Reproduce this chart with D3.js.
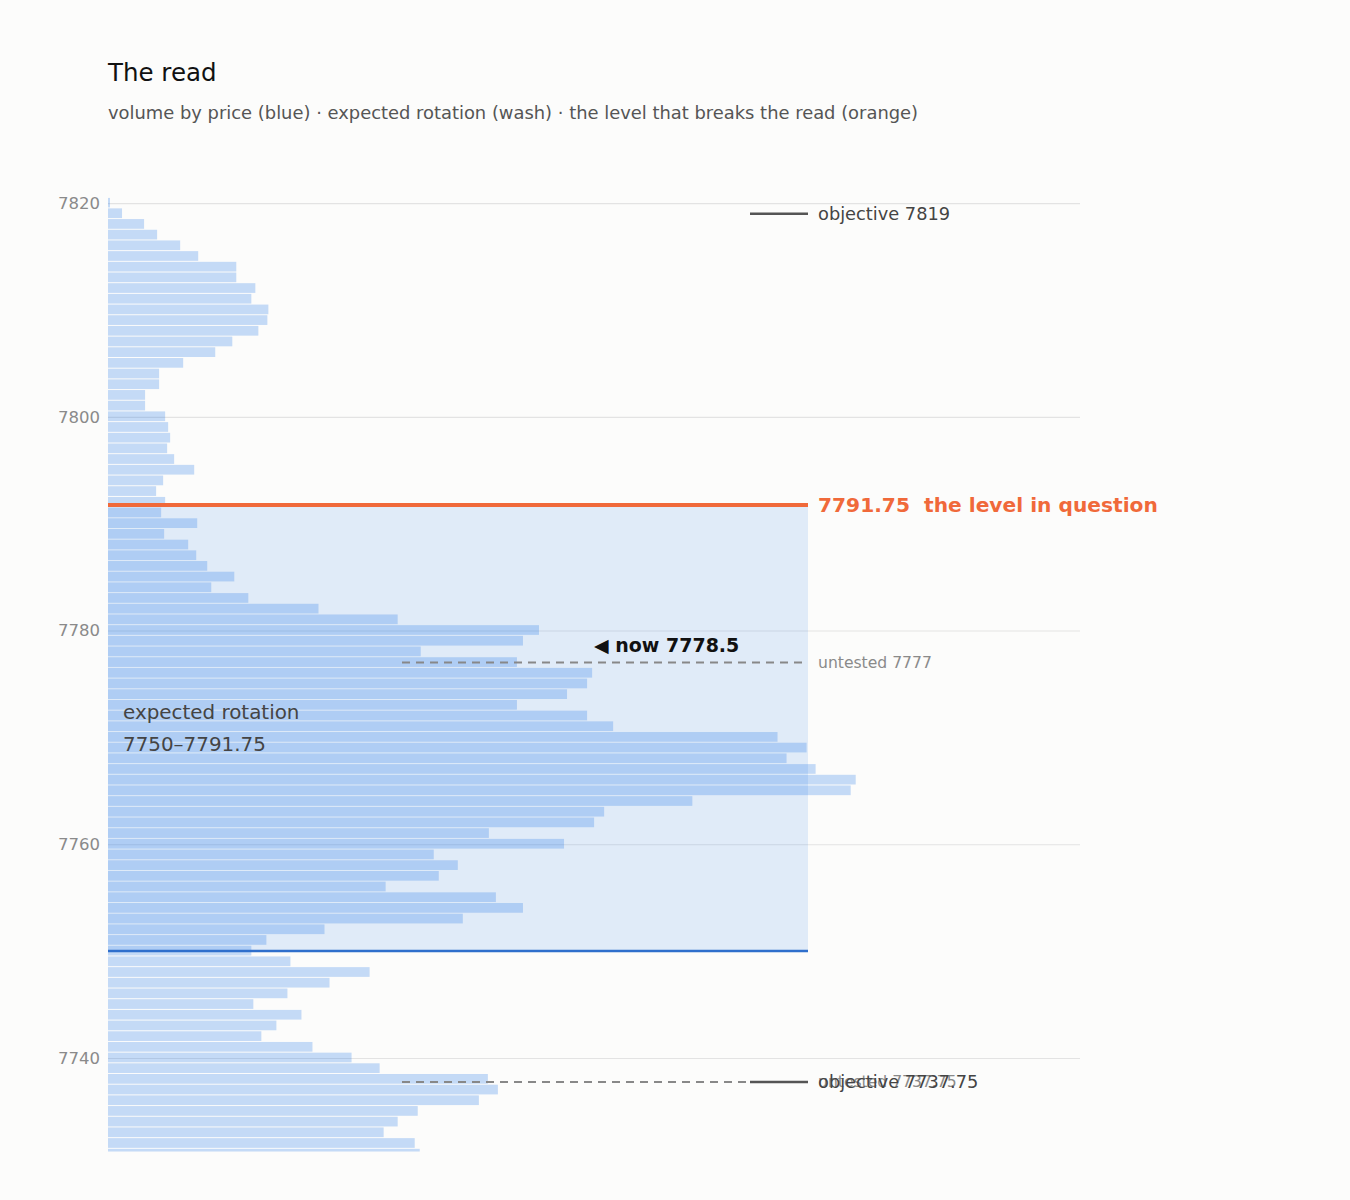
<!DOCTYPE html>
<html>
<head>
<meta charset="utf-8">
<script src="https://cdn.jsdelivr.net/npm/d3@7"></script>
<style>
  body { margin: 0; background: #fcfcfb; }
  svg { display: block; font-family: "DejaVu Sans", sans-serif; }
</style>
</head>
<body>
<script>
// volume by price, one bar per point, top (7820) to bottom (7731)
var prices = d3.range(7820, 7730, -1);
var volumes = [
  2, 14, 36, 49, 72, 90, 128, 128, 147, 143,
  160, 159, 150, 124, 107, 75, 51, 51, 37, 37,
  57, 60, 62, 59, 66, 86, 55, 48, 57, 53,
  89, 56, 80, 88, 99, 126, 103, 140, 210, 289,
  430, 414, 312, 408, 483, 478, 458, 408, 478, 504,
  668, 697, 677, 706, 746, 741, 583, 495, 485, 380,
  455, 325, 349, 330, 277, 387, 414, 354, 216, 158,
  143, 182, 261, 221, 179, 145, 193, 168, 153, 204,
  243, 271, 379, 389, 370, 309, 289, 275, 306, 311
];
var yTicks = [7740, 7760, 7780, 7800, 7820];
var priceRange = [7731.25, 7820.5];

var rotation = [7750, 7791.75];   // expected rotation (wash)
var breakLevel = 7791.75;          // the level in question
var nowPrice = 7778.5;
var objectives = [7819, 7737.75];
var untested = [7777, 7737.75];

var dataset = prices.map(function(p, i) { return { price: p, volume: volumes[i] }; });

var width = 1350;
var height = 1200;
var plotLeft = 108;
var plotRight = 1080;
var plotTop = 197.7;
var plotBottom = 1151.5;
var washRight = 808;
var labelX = 818;

var svg = d3.select("body").append("svg")
            .attr("width", width)
            .attr("height", height);

var yScale = d3.scaleLinear()
               .domain(priceRange)
               .range([plotBottom, plotTop]);
var xScale = d3.scaleLinear()
               .domain([0, d3.max(volumes) * 1.3])
               .range([plotLeft, plotRight]);

// title
svg.append("text")
   .attr("x", plotLeft).attr("y", 81)
   .style("font-size", "24.5px").style("fill", "#111")
   .text("The read");
svg.append("text")
   .attr("x", plotLeft).attr("y", 119)
   .style("font-size", "17.9px").style("fill", "#555")
   .text("volume by price (blue) · expected rotation (wash) · the level that breaks the read (orange)");

// grid + axis labels
var yAxis = d3.axisLeft(yScale)
              .tickValues(yTicks)
              .tickSize(-(plotRight - plotLeft))
              .tickPadding(8)
              .tickFormat(d3.format("d"));
var gAxis = svg.append("g")
   .attr("transform", "translate(" + plotLeft + ",0)")
   .call(yAxis);
gAxis.select(".domain").remove();
gAxis.selectAll(".tick line").attr("stroke", "#e3e3e3").attr("stroke-width", 1.2);
gAxis.selectAll(".tick text")
     .style("font-size", "16.5px").style("fill", "#8a8a8a")
     .style("font-family", "DejaVu Sans, sans-serif");

svg.append("clipPath").attr("id", "plot")
   .append("rect")
   .attr("x", plotLeft).attr("y", plotTop)
   .attr("width", plotRight - plotLeft).attr("height", plotBottom - plotTop);

// wash
svg.append("rect")
   .attr("x", plotLeft)
   .attr("y", yScale(rotation[1]))
   .attr("width", washRight - plotLeft)
   .attr("height", yScale(rotation[0]) - yScale(rotation[1]))
   .attr("fill", "#1a73e8")
   .attr("fill-opacity", 0.12);

// bars
svg.append("g").attr("clip-path", "url(#plot)")
   .selectAll("rect")
   .data(dataset)
   .enter()
   .append("rect")
   .attr("x", plotLeft)
   .attr("y", function(d) { return yScale(d.price + 0.5); })
   .attr("width", function(d) { return xScale(d.volume) - plotLeft; })
   .attr("height", function(d) { return yScale(d.price - 0.5) - yScale(d.price + 0.5) - 1; })
   .attr("fill", "#1a73e8")
   .attr("fill-opacity", 0.25);

// rotation label
svg.append("text")
   .attr("x", 123).attr("y", 719)
   .style("font-size", "19.9px").style("fill", "#444")
   .text("expected rotation");
svg.append("text")
   .attr("x", 123).attr("y", 751)
   .style("font-size", "19.9px").style("fill", "#444")
   .text(rotation[0] + "–" + rotation[1]);

// bottom of rotation
svg.append("line")
   .attr("x1", plotLeft).attr("x2", washRight)
   .attr("y1", yScale(rotation[0])).attr("y2", yScale(rotation[0]))
   .attr("stroke", "#2f6fcc").attr("stroke-width", 2.5);

// untested levels (dashed)
untested.forEach(function(u) {
    svg.append("line")
       .attr("x1", 402).attr("x2", washRight)
       .attr("y1", yScale(u)).attr("y2", yScale(u))
       .attr("stroke", "#888").attr("stroke-width", 2)
       .attr("stroke-dasharray", "8,6");
    svg.append("text")
       .attr("x", labelX).attr("y", yScale(u)).attr("dy", "0.35em")
       .style("font-size", "15.6px").style("fill", "#8a8a8a")
       .text("untested " + u);
});

// objectives
objectives.forEach(function(o) {
    svg.append("line")
       .attr("x1", 750).attr("x2", washRight)
       .attr("y1", yScale(o)).attr("y2", yScale(o))
       .attr("stroke", "#555").attr("stroke-width", 2.5);
    svg.append("text")
       .attr("x", labelX).attr("y", yScale(o)).attr("dy", "0.35em")
       .style("font-size", "17.8px").style("fill", "#444")
       .text("objective " + o);
});

// the level in question
svg.append("line")
   .attr("x1", plotLeft).attr("x2", washRight)
   .attr("y1", yScale(breakLevel)).attr("y2", yScale(breakLevel))
   .attr("stroke", "#f0693a").attr("stroke-width", 4);
svg.append("text")
   .attr("x", labelX).attr("y", yScale(breakLevel)).attr("dy", "0.35em")
   .style("font-size", "20.2px").style("font-weight", "bold").style("fill", "#f0693a")
   .style("white-space", "pre")
   .text(breakLevel + "  the level in question");

// now
svg.append("text")
   .attr("x", 594).attr("y", yScale(nowPrice)).attr("dy", "0.3em")
   .style("font-size", "19px").style("font-weight", "bold").style("fill", "#111")
   .text("◀ now " + nowPrice);
</script>
</body>
</html>
